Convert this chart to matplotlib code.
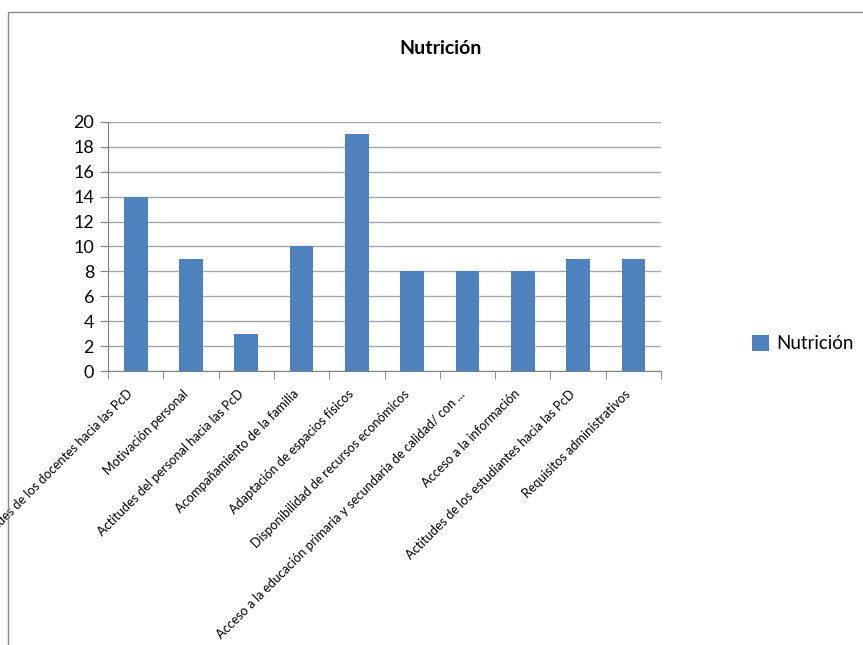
import matplotlib.pyplot as plt
import matplotlib.transforms as mtransforms
from matplotlib.patches import Rectangle

# Data
categories = [
    "Actitudes de los docentes hacia las PcD",
    "Motivación personal",
    "Actitudes del personal hacia las PcD",
    "Acompañamiento de la familia",
    "Adaptación de espacios físicos",
    "Disponibilidad de recursos económicos",
    "Acceso a la educación primaria y secundaria de calidad/ con ...",
    "Acceso a la información",
    "Actitudes de los estudiantes hacia las PcD",
    "Requisitos administrativos",
]
values = [14, 9, 3, 10, 19, 8, 8, 8, 9, 9]
series_name = "Nutrición"
y_ticks = list(range(0, 21, 2))

plt.rcParams['font.family'] = ['Lato', 'DejaVu Sans']

fig = plt.figure(figsize=(8.63, 6.45), dpi=100)
ax = fig.add_axes([0.1251, 0.4248, 0.6409, 0.3861])

x = list(range(len(categories)))
bars = ax.bar(x, values, width=0.43, color='#4F81BD', label=series_name, zorder=3)

ax.set_xlim(-0.5, len(categories) - 0.5)
ax.set_ylim(0, 20)
ax.set_yticks(y_ticks)
ax.set_yticklabels([str(v) for v in y_ticks], fontsize=13)
ax.yaxis.grid(True, color='#A6A6A6', linewidth=1, zorder=0)

# category labels at bar centres, tick marks between categories
ax.set_xticks(x)
ax.set_xticklabels(categories, rotation=45, ha='right', rotation_mode='anchor', fontsize=9.2)
ax.tick_params(axis='x', length=0, pad=7)
shift = mtransforms.ScaledTranslation(-9 / 100, -7 / 100, fig.dpi_scale_trans)
for lbl in ax.get_xticklabels():
    lbl.set_transform(lbl.get_transform() + shift)
ax.set_xticks([i - 0.5 for i in range(len(categories) + 1)], minor=True)
ax.tick_params(axis='x', which='minor', length=6, color='#808080')
ax.tick_params(axis='y', length=6, color='#808080', pad=4)

for side in ['top', 'right']:
    ax.spines[side].set_visible(False)
for side in ['left', 'bottom']:
    ax.spines[side].set_color('#808080')

fig.text(0.511, 0.925, series_name, ha='center', va='center', fontsize=14, fontweight='bold')

fig.legend(handles=[bars], labels=[series_name], loc='center left',
           bbox_to_anchor=(0.852, 0.467), frameon=False, fontsize=13.5,
           handlelength=0.9, handleheight=0.9, handletextpad=0.4)

# outer chart border
fig.patches.append(Rectangle((8 / 863, -0.1), 1.2, 1 - 12 / 645 + 0.1,
                             transform=fig.transFigure, fill=False,
                             edgecolor='#888888', linewidth=1, zorder=10))

fig.savefig('out.png', dpi=100)
